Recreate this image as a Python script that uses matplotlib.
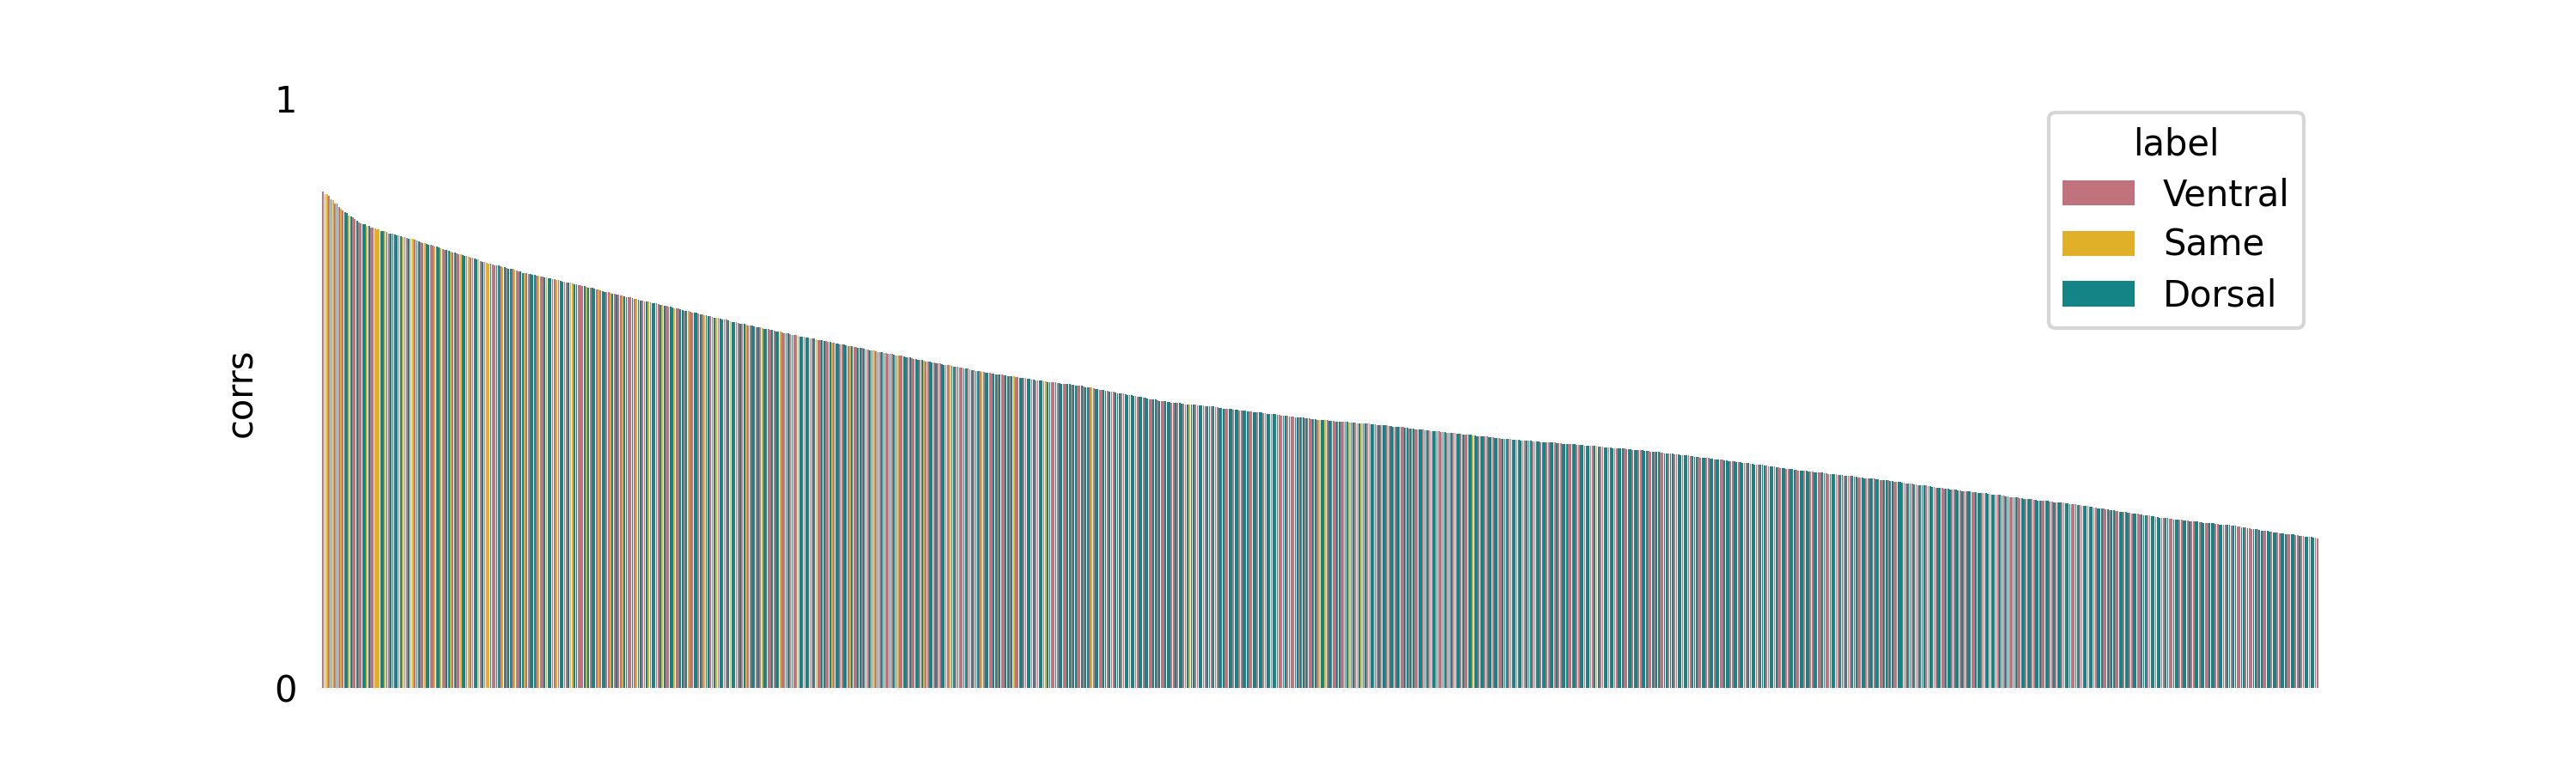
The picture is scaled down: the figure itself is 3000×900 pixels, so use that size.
import numpy as np
import matplotlib
matplotlib.use("Agg")
import matplotlib.pyplot as plt
from matplotlib.patches import Patch

# correlation per item, sorted descending
corrs = [
    0.841, 0.838, 0.837, 0.835, 0.829, 0.827, 0.822, 0.821, 0.816, 0.812, 0.810, 0.807, 0.806, 0.801, 0.800, 0.798, 0.795, 0.792, 0.790, 0.788,
    0.787, 0.786, 0.784, 0.783, 0.781, 0.780, 0.779, 0.778, 0.777, 0.775, 0.775, 0.774, 0.773, 0.771, 0.770, 0.770, 0.769, 0.768, 0.767, 0.766,
    0.765, 0.764, 0.763, 0.762, 0.762, 0.761, 0.760, 0.758, 0.757, 0.756, 0.755, 0.754, 0.753, 0.752, 0.751, 0.750, 0.749, 0.748, 0.747, 0.745,
    0.744, 0.743, 0.742, 0.741, 0.740, 0.739, 0.738, 0.737, 0.736, 0.735, 0.734, 0.733, 0.732, 0.731, 0.730, 0.729, 0.728, 0.727, 0.726, 0.724,
    0.723, 0.722, 0.721, 0.720, 0.719, 0.718, 0.717, 0.717, 0.716, 0.715, 0.714, 0.713, 0.712, 0.711, 0.710, 0.710, 0.709, 0.708, 0.707, 0.706,
    0.704, 0.704, 0.703, 0.702, 0.702, 0.701, 0.700, 0.699, 0.699, 0.698, 0.697, 0.696, 0.696, 0.695, 0.694, 0.693, 0.693, 0.692, 0.691, 0.690,
    0.689, 0.689, 0.688, 0.688, 0.687, 0.686, 0.685, 0.684, 0.683, 0.683, 0.682, 0.681, 0.680, 0.679, 0.678, 0.678, 0.677, 0.676, 0.675, 0.674,
    0.673, 0.672, 0.672, 0.671, 0.670, 0.669, 0.668, 0.667, 0.667, 0.666, 0.665, 0.664, 0.663, 0.662, 0.662, 0.661, 0.660, 0.659, 0.658, 0.657,
    0.657, 0.656, 0.655, 0.655, 0.654, 0.653, 0.652, 0.652, 0.651, 0.650, 0.649, 0.648, 0.648, 0.647, 0.646, 0.645, 0.644, 0.644, 0.643, 0.642,
    0.641, 0.640, 0.640, 0.639, 0.638, 0.637, 0.636, 0.636, 0.635, 0.634, 0.633, 0.632, 0.632, 0.631, 0.630, 0.629, 0.628, 0.627, 0.627, 0.626,
    0.625, 0.624, 0.624, 0.623, 0.622, 0.621, 0.620, 0.620, 0.619, 0.618, 0.617, 0.617, 0.616, 0.615, 0.614, 0.614, 0.613, 0.612, 0.611, 0.611,
    0.610, 0.609, 0.609, 0.608, 0.607, 0.607, 0.606, 0.605, 0.604, 0.604, 0.603, 0.602, 0.601, 0.601, 0.600, 0.599, 0.599, 0.598, 0.597, 0.596,
    0.596, 0.595, 0.594, 0.594, 0.593, 0.592, 0.592, 0.591, 0.590, 0.590, 0.590, 0.589, 0.588, 0.587, 0.587, 0.586, 0.585, 0.584, 0.584, 0.583,
    0.582, 0.582, 0.581, 0.580, 0.580, 0.579, 0.578, 0.578, 0.577, 0.576, 0.576, 0.575, 0.574, 0.574, 0.573, 0.572, 0.572, 0.571, 0.570, 0.570,
    0.569, 0.568, 0.568, 0.567, 0.566, 0.566, 0.565, 0.564, 0.564, 0.563, 0.563, 0.562, 0.561, 0.561, 0.560, 0.559, 0.558, 0.558, 0.557, 0.556,
    0.556, 0.555, 0.554, 0.554, 0.553, 0.552, 0.552, 0.551, 0.550, 0.550, 0.549, 0.548, 0.548, 0.547, 0.547, 0.546, 0.545, 0.545, 0.544, 0.543,
    0.543, 0.542, 0.541, 0.541, 0.540, 0.539, 0.539, 0.538, 0.538, 0.537, 0.536, 0.536, 0.535, 0.534, 0.534, 0.533, 0.533, 0.532, 0.532, 0.531,
    0.531, 0.530, 0.530, 0.529, 0.529, 0.528, 0.528, 0.527, 0.527, 0.526, 0.526, 0.525, 0.525, 0.524, 0.524, 0.523, 0.523, 0.522, 0.522, 0.521,
    0.521, 0.520, 0.520, 0.519, 0.519, 0.518, 0.518, 0.518, 0.517, 0.517, 0.516, 0.516, 0.515, 0.515, 0.515, 0.514, 0.514, 0.513, 0.513, 0.512,
    0.512, 0.511, 0.510, 0.510, 0.509, 0.509, 0.508, 0.507, 0.507, 0.506, 0.505, 0.505, 0.504, 0.504, 0.503, 0.502, 0.502, 0.501, 0.500, 0.500,
    0.499, 0.499, 0.498, 0.497, 0.497, 0.496, 0.495, 0.495, 0.494, 0.494, 0.493, 0.492, 0.492, 0.491, 0.490, 0.490, 0.489, 0.489, 0.488, 0.487,
    0.487, 0.486, 0.486, 0.485, 0.485, 0.484, 0.484, 0.483, 0.483, 0.483, 0.482, 0.482, 0.481, 0.481, 0.481, 0.480, 0.480, 0.480, 0.479, 0.479,
    0.479, 0.479, 0.478, 0.478, 0.477, 0.477, 0.477, 0.476, 0.476, 0.475, 0.475, 0.474, 0.474, 0.474, 0.473, 0.473, 0.472, 0.472, 0.472, 0.471,
    0.471, 0.470, 0.470, 0.469, 0.469, 0.469, 0.468, 0.468, 0.467, 0.467, 0.467, 0.466, 0.466, 0.465, 0.465, 0.464, 0.464, 0.464, 0.463, 0.463,
    0.462, 0.462, 0.461, 0.461, 0.460, 0.460, 0.460, 0.459, 0.459, 0.459, 0.458, 0.458, 0.457, 0.457, 0.457, 0.456, 0.456, 0.456, 0.455, 0.455,
    0.455, 0.454, 0.454, 0.454, 0.453, 0.453, 0.453, 0.452, 0.452, 0.452, 0.452, 0.451, 0.451, 0.451, 0.450, 0.450, 0.450, 0.450, 0.449, 0.449,
    0.449, 0.449, 0.448, 0.448, 0.448, 0.447, 0.447, 0.447, 0.446, 0.446, 0.446, 0.445, 0.445, 0.445, 0.444, 0.444, 0.443, 0.443, 0.443, 0.442,
    0.442, 0.442, 0.441, 0.441, 0.440, 0.440, 0.440, 0.439, 0.439, 0.439, 0.438, 0.438, 0.437, 0.437, 0.437, 0.436, 0.436, 0.436, 0.435, 0.435,
    0.434, 0.434, 0.434, 0.433, 0.433, 0.432, 0.432, 0.432, 0.431, 0.431, 0.431, 0.430, 0.430, 0.429, 0.429, 0.429, 0.428, 0.428, 0.427, 0.427,
    0.427, 0.426, 0.426, 0.426, 0.425, 0.425, 0.425, 0.424, 0.424, 0.424, 0.423, 0.423, 0.423, 0.422, 0.422, 0.422, 0.421, 0.421, 0.421, 0.421,
    0.420, 0.420, 0.420, 0.419, 0.419, 0.419, 0.418, 0.418, 0.418, 0.418, 0.417, 0.417, 0.417, 0.417, 0.416, 0.416, 0.416, 0.416, 0.415, 0.415,
    0.415, 0.414, 0.414, 0.414, 0.414, 0.413, 0.413, 0.413, 0.412, 0.412, 0.412, 0.412, 0.411, 0.411, 0.411, 0.410, 0.410, 0.410, 0.410, 0.409,
    0.409, 0.409, 0.408, 0.408, 0.408, 0.408, 0.407, 0.407, 0.407, 0.406, 0.406, 0.406, 0.406, 0.405, 0.405, 0.405, 0.404, 0.404, 0.404, 0.403,
    0.403, 0.403, 0.402, 0.402, 0.402, 0.401, 0.401, 0.400, 0.400, 0.400, 0.399, 0.399, 0.398, 0.398, 0.398, 0.397, 0.397, 0.396, 0.396, 0.396,
    0.395, 0.395, 0.394, 0.394, 0.394, 0.393, 0.393, 0.392, 0.392, 0.392, 0.391, 0.391, 0.390, 0.390, 0.390, 0.389, 0.389, 0.388, 0.388, 0.388,
    0.387, 0.387, 0.386, 0.386, 0.385, 0.385, 0.384, 0.384, 0.383, 0.383, 0.383, 0.382, 0.382, 0.381, 0.381, 0.380, 0.380, 0.379, 0.379, 0.378,
    0.378, 0.378, 0.377, 0.377, 0.376, 0.376, 0.375, 0.375, 0.374, 0.374, 0.373, 0.373, 0.373, 0.372, 0.372, 0.371, 0.371, 0.370, 0.370, 0.369,
    0.369, 0.369, 0.368, 0.368, 0.367, 0.367, 0.367, 0.366, 0.366, 0.365, 0.365, 0.365, 0.364, 0.364, 0.363, 0.363, 0.363, 0.362, 0.362, 0.361,
    0.361, 0.361, 0.360, 0.360, 0.359, 0.359, 0.359, 0.358, 0.358, 0.357, 0.357, 0.357, 0.356, 0.356, 0.356, 0.355, 0.355, 0.355, 0.354, 0.354,
    0.353, 0.353, 0.352, 0.352, 0.352, 0.351, 0.351, 0.350, 0.350, 0.349, 0.349, 0.348, 0.348, 0.347, 0.347, 0.346, 0.346, 0.345, 0.345, 0.344,
    0.344, 0.344, 0.343, 0.343, 0.342, 0.342, 0.341, 0.341, 0.340, 0.340, 0.339, 0.339, 0.338, 0.338, 0.338, 0.337, 0.337, 0.336, 0.336, 0.335,
    0.335, 0.334, 0.334, 0.334, 0.333, 0.333, 0.332, 0.332, 0.332, 0.331, 0.331, 0.330, 0.330, 0.330, 0.329, 0.329, 0.328, 0.328, 0.327, 0.327,
    0.327, 0.326, 0.326, 0.325, 0.325, 0.324, 0.324, 0.324, 0.323, 0.323, 0.322, 0.322, 0.321, 0.321, 0.321, 0.320, 0.320, 0.319, 0.319, 0.318,
    0.318, 0.318, 0.317, 0.317, 0.317, 0.316, 0.316, 0.315, 0.315, 0.315, 0.315, 0.314, 0.314, 0.313, 0.313, 0.312, 0.312, 0.311, 0.311, 0.310,
    0.310, 0.309, 0.309, 0.308, 0.308, 0.307, 0.307, 0.306, 0.306, 0.305, 0.305, 0.304, 0.304, 0.303, 0.303, 0.302, 0.302, 0.301, 0.300, 0.300,
    0.299, 0.299, 0.298, 0.298, 0.297, 0.297, 0.296, 0.296, 0.295, 0.295, 0.294, 0.294, 0.293, 0.293, 0.292, 0.292, 0.291, 0.291, 0.290, 0.290,
    0.289, 0.289, 0.289, 0.288, 0.288, 0.287, 0.287, 0.286, 0.286, 0.286, 0.285, 0.285, 0.284, 0.284, 0.284, 0.283, 0.283, 0.282, 0.282, 0.282,
    0.281, 0.281, 0.280, 0.280, 0.280, 0.279, 0.279, 0.279, 0.278, 0.278, 0.277, 0.277, 0.277, 0.276, 0.276, 0.276, 0.275, 0.275, 0.275, 0.274,
    0.274, 0.273, 0.273, 0.272, 0.271, 0.271, 0.270, 0.270, 0.269, 0.269, 0.268, 0.267, 0.267, 0.266, 0.266, 0.265, 0.265, 0.264, 0.263, 0.263,
    0.262, 0.262, 0.262, 0.261, 0.261, 0.260, 0.260, 0.260, 0.259, 0.259, 0.258, 0.258, 0.258, 0.257, 0.257, 0.256, 0.256, 0.255, 0.255, 0.254,
]

# label of each bar, same order: V = Ventral, S = Same, D = Dorsal
label_codes = (
    "VSSVDSVDVS" "VDDSDVVDVV" "DDSDVVSSSD" "DSDVDDDDVD" "SVVDSSVDDV"
    "VSDDVVSDDS" "VVDDSVDVVS" "DDVSVVDDSV" "DVSSDVVDDV" "SDVDDVSVVD"
    "DSVVDDDVSV" "VDSDDVVSVD" "DVVDSSDDVV" "VDSDVDDVSV" "DDVVSDVDVV"
    "SDDVVDVSDD" "VVDSVDDVVD" "SDVVDDSVVD" "DVDSVVDDVD" "VSDDVVDSVD"
    "DVVDSDDVVD" "VDSVVDDVDV" "SDDVVDVDDS" "VVDDVDVVSD" "DVDDVVDSVV"
    "DDVVDSVDDV" "VDDVSDVVDD" "VDVVDDSVDV" "DDVVDVDDSV" "VDDVDVVDDV"
    "DSVVDDVDVV" "DDVVSDDVDV" "VDDVVDVDDV" "SVDDVVDDVD" "VVDDVDSVVD"
    "DVVDDVDVVD" "DVSDDVVDVD" "DVVDDVDDVV" "DVDDVSVDDV" "VDDVDVVDDD"
    "VVDDVDDVVD" "DVDDVVDDVD" "VVDDDVVDVD" "DVVDSDDVVD" "DVVDDVDVVD"
    "DDVVDDVDDV" "VDDDVVDDVD" "DVVDDVDDDV" "VDDVDVVDDV" "DDVDVVDDVS"
    "DDSVDDVVDD" "VVDDSDDVVD" "SDDVVDDDVD" "VDDVVDDVDD" "VVDDVDDVVD"
    "DVDDVVDDDV" "VDDVDDVVDD" "VDVVDDSDDV" "DDVVDDVDDV" "VDDDVVDDVD"
    "DVVDDDVVDD" "VDDVVDDVDV" "VDDDVVDDVV" "DDVDDVVDSD" "VVDDVDDVVD"
    "DDVVDDVDDV" "VDDDVVDVDD" "VVDDVDDVVD" "DVDDVVDDDV" "VDDVVDDVDD"
    "VVDDDVVDDV" "DDVVDVDDVV" "DDDVVDDVDV" "VDDVVDDDVV" "DDVDDVVDDV"
    "VDDVVDDDVV" "DDVDVVDDDV" "VDDVVDDVDD" "VVDDVDDVVD" "DDVVDDVDVV"
    "DDDVVDDVVD" "DVVDDDVVDD" "VDVVDDVVDD" "DVVDDVDDVV" "DDVDDVVDDV"
    "VDDVDDVVDD" "DVVDDVVDVD" "DVVDDDVVDD" "VVDDVDDVVD" "DDVVDVDDVV"
    "DDVDDVVDDV" "VDDDVVDDVD" "DVVDDVVDDD" "VVDDVDVVDD" "VDDVVDDDVV"
    "DDVVDDVDDV" "VDDVDVVDDV" "DDVVDDVDDV" "VDDDVVDDVV" "DVVDDVDDVV"
)
code_names = {"V": "Ventral", "S": "Same", "D": "Dorsal"}
hue_order = ["Ventral", "Same", "Dorsal"]
palette = {"Ventral": "#c0737d", "Same": "#e0b128", "Dorsal": "#148487"}

labels = [code_names[c] for c in label_codes]
assert len(labels) == len(corrs), (len(labels), len(corrs))

fig, ax = plt.subplots(figsize=(10, 3), dpi=300)
fig.subplots_adjust(top=0.873)
x = np.arange(len(corrs))
ax.bar(x, corrs, width=0.8, color=[palette[l] for l in labels], linewidth=0)
ax.set_xlim(-0.5, len(corrs) - 0.5)
ax.set_ylim(0, 1)
ax.set_yticks([0, 1])
ax.set_xticks([])
ax.tick_params(axis="y", left=False)
ax.set_ylabel("corrs")
for sp in ax.spines.values():
    sp.set_visible(False)

handles = [Patch(facecolor=palette[h], label=h) for h in hue_order]
ax.legend(handles=handles, title="label", loc="upper right",
          labelspacing=0.4, borderaxespad=0.4)

fig.savefig("out.png", dpi=300)
